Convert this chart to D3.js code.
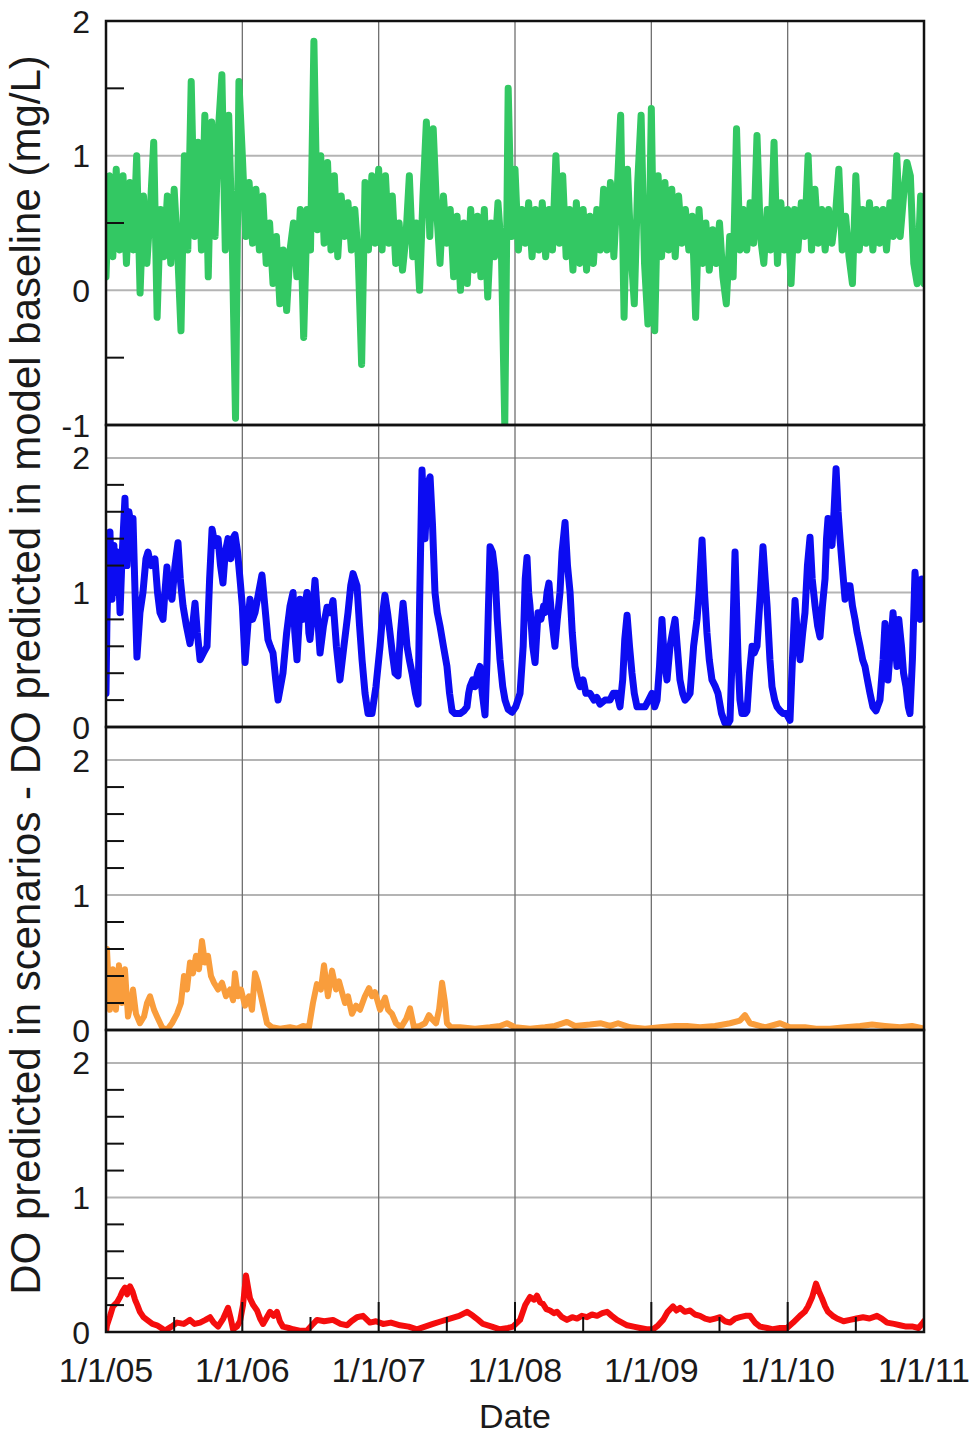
<!DOCTYPE html>
<html>
<head>
<meta charset="utf-8">
<script src="https://cdn.jsdelivr.net/npm/d3@7"></script>
<style>
  html, body { margin: 0; padding: 0; background: #fff; }
  #chart { width: 975px; height: 1440px; }
  text { font-family: "Liberation Sans", Arial, sans-serif; fill: #1a1a1a; }
</style>
</head>
<body>
<div id="chart"></div>
<script>
// x axis: decimal years, labelled as 1/1/yy
const yearTicks = [2005, 2006, 2007, 2008, 2009, 2010, 2011];

// panel 1 (green): values sampled every 0.025 yr from 2005.0
const greenStart = 2005;
const greenStep = 0.025;
const greenValues = [
  0.1, 0.85, 0.25, 0.9, 0.3, 0.85, 0.2, 0.8, 0.3, 1.0,
  -0.02, 0.7, 0.2, 0.6, 1.1, -0.2, 0.6, 0.25, 0.7, 0.2,
  0.75, 0.3, -0.3, 1.0, 0.3, 1.55, 0.4, 1.1, 0.3, 1.3,
  0.1, 1.25, 0.4, 1.2, 1.6, 0.3, 1.3, 0.4, -0.95, 1.55,
  1.0, 0.4, 0.8, 0.35, 0.75, 0.3, 0.7, 0.2, 0.5, 0.05,
  0.4, -0.1, 0.3, -0.15, 0.3, 0.5, 0.1, 0.6, -0.35, 0.6,
  0.3, 1.85, 0.45, 1.0, 0.35, 0.95, 0.3, 0.85, 0.25, 0.7,
  0.4, 0.65, 0.3, 0.6, 0.25, -0.55, 0.8, 0.3, 0.85, 0.35,
  0.9, 0.3, 0.85, 0.35, 0.7, 0.2, 0.5, 0.15, 0.4, 0.85,
  0.25, 0.5, 0.0, 0.7, 1.25, 0.4, 1.2, 0.6, 0.2, 0.7,
  0.35, 0.6, 0.1, 0.55, 0.0, 0.5, 0.05, 0.6, 0.15, 0.55,
  0.1, 0.6, -0.05, 0.5, 0.25, 0.65, 0.3, -1.0, 1.5, 0.4,
  0.9, 0.3, 0.6, 0.35, 0.65, 0.25, 0.6, 0.3, 0.65, 0.25,
  0.6, 0.3, 1.0, 0.35, 0.85, 0.25, 0.6, 0.15, 0.65, 0.2,
  0.6, 0.15, 0.55, 0.2, 0.6, 0.3, 0.75, 0.3, 0.8, 0.25,
  0.75, 1.3, -0.2, 0.9, 0.3, -0.1, 0.8, 1.3, 0.2, -0.25,
  1.35, -0.3, 0.85, 0.25, 0.8, 0.3, 0.75, 0.25, 0.7, 0.35,
  0.6, 0.3, 0.55, -0.2, 0.6, 0.2, 0.5, 0.15, 0.45, 0.2,
  0.5, 0.1, -0.1, 0.4, 0.1, 1.2, 0.3, 0.6, 0.3, 0.65,
  0.35, 1.15, 0.4, 0.2, 0.6, 0.3, 1.1, 0.2, 0.65, 0.3,
  0.6, 0.05, 0.6, 0.3, 0.65, 0.4, 1.0, 0.3, 0.75, 0.35,
  0.6, 0.3, 0.6, 0.35, 0.55, 0.9, 0.3, 0.55, 0.25, 0.05,
  0.85, 0.3, 0.6, 0.35, 0.65, 0.3, 0.6, 0.35, 0.6, 0.3,
  0.65, 0.4, 1.0, 0.4, 0.7, 0.95, 0.85, 0.2, 0.05, 0.7,
  0.05
];

// panel 2 (blue): [decimal year, mg/L]
const blueSeries = [
  [2005.000, 0.25], [2005.007, 0.8], [2005.015, 1.1], [2005.029, 1.45], [2005.044, 0.95],
  [2005.058, 1.35], [2005.066, 1.0], [2005.080, 1.2], [2005.088, 1.3], [2005.103, 0.85],
  [2005.117, 1.25], [2005.139, 1.7], [2005.154, 1.2], [2005.168, 1.6], [2005.176, 1.55],
  [2005.198, 1.55], [2005.213, 1.0], [2005.227, 0.52], [2005.249, 0.85], [2005.271, 1.0],
  [2005.293, 1.25], [2005.308, 1.3], [2005.330, 1.2], [2005.359, 1.25], [2005.378, 1.0],
  [2005.396, 0.85], [2005.418, 0.8], [2005.432, 1.0], [2005.447, 1.19], [2005.462, 1.0],
  [2005.484, 0.95], [2005.506, 1.2], [2005.528, 1.37], [2005.545, 1.1], [2005.565, 0.9],
  [2005.590, 0.75], [2005.616, 0.62], [2005.635, 0.75], [2005.653, 0.92], [2005.670, 0.7],
  [2005.690, 0.5], [2005.715, 0.55], [2005.741, 0.6], [2005.760, 1.1], [2005.778, 1.47],
  [2005.800, 1.35], [2005.822, 1.4], [2005.840, 1.2], [2005.858, 1.07], [2005.875, 1.3],
  [2005.895, 1.4], [2005.915, 1.25], [2005.930, 1.4], [2005.946, 1.43], [2005.965, 1.3],
  [2005.983, 1.1], [2006.000, 0.9], [2006.020, 0.48], [2006.040, 0.75], [2006.056, 0.95],
  [2006.075, 0.8], [2006.093, 0.85], [2006.120, 1.0], [2006.144, 1.13], [2006.165, 0.9],
  [2006.188, 0.65], [2006.205, 0.6], [2006.225, 0.55], [2006.245, 0.35], [2006.262, 0.2],
  [2006.280, 0.3], [2006.298, 0.4], [2006.325, 0.7], [2006.350, 0.9], [2006.372, 1.0],
  [2006.385, 0.7], [2006.401, 0.5], [2006.415, 0.75], [2006.423, 0.95], [2006.445, 0.8],
  [2006.474, 1.0], [2006.488, 0.7], [2006.496, 0.65], [2006.515, 0.85], [2006.533, 1.09],
  [2006.550, 0.85], [2006.570, 0.55], [2006.595, 0.75], [2006.621, 0.89], [2006.645, 0.85],
  [2006.665, 0.94], [2006.690, 0.6], [2006.716, 0.35], [2006.745, 0.6], [2006.775, 0.85],
  [2006.795, 1.05], [2006.812, 1.14], [2006.841, 1.05], [2006.860, 0.75], [2006.878, 0.5],
  [2006.900, 0.25], [2006.922, 0.1], [2006.951, 0.1], [2006.980, 0.3], [2007.010, 0.6],
  [2007.030, 0.85], [2007.046, 0.98], [2007.065, 0.85], [2007.083, 0.7], [2007.100, 0.55],
  [2007.120, 0.4], [2007.142, 0.38], [2007.160, 0.7], [2007.179, 0.92], [2007.195, 0.75],
  [2007.208, 0.6], [2007.225, 0.5], [2007.245, 0.4], [2007.270, 0.25], [2007.289, 0.17],
  [2007.300, 0.9], [2007.318, 1.91], [2007.330, 1.6], [2007.340, 1.4], [2007.358, 1.8],
  [2007.377, 1.86], [2007.395, 1.5], [2007.413, 1.0], [2007.430, 0.85], [2007.450, 0.75],
  [2007.475, 0.6], [2007.501, 0.45], [2007.520, 0.25], [2007.538, 0.12], [2007.560, 0.1],
  [2007.597, 0.1], [2007.625, 0.12], [2007.648, 0.15], [2007.660, 0.25], [2007.670, 0.3],
  [2007.690, 0.35], [2007.707, 0.3], [2007.725, 0.4], [2007.743, 0.45], [2007.760, 0.25],
  [2007.780, 0.09], [2007.795, 0.5], [2007.817, 1.34], [2007.835, 1.3], [2007.853, 1.15],
  [2007.870, 0.8], [2007.890, 0.5], [2007.910, 0.3], [2007.927, 0.2], [2007.950, 0.13],
  [2007.978, 0.11], [2008.005, 0.15], [2008.037, 0.25], [2008.060, 0.6], [2008.075, 1.1],
  [2008.088, 1.26], [2008.100, 1.0], [2008.110, 0.9], [2008.130, 0.6], [2008.147, 0.48],
  [2008.169, 0.85], [2008.190, 0.8], [2008.210, 0.9], [2008.220, 0.85], [2008.235, 1.0],
  [2008.249, 1.07], [2008.270, 0.8], [2008.293, 0.6], [2008.310, 0.8], [2008.330, 1.0],
  [2008.345, 1.3], [2008.367, 1.52], [2008.385, 1.2], [2008.404, 1.0], [2008.420, 0.7],
  [2008.440, 0.45], [2008.460, 0.35], [2008.477, 0.3], [2008.500, 0.35], [2008.520, 0.25],
  [2008.550, 0.25], [2008.580, 0.2], [2008.600, 0.22], [2008.624, 0.17], [2008.660, 0.2],
  [2008.697, 0.2], [2008.720, 0.25], [2008.748, 0.25], [2008.770, 0.15], [2008.790, 0.35],
  [2008.805, 0.65], [2008.822, 0.83], [2008.840, 0.6], [2008.858, 0.4], [2008.875, 0.25],
  [2008.895, 0.15], [2008.925, 0.15], [2008.954, 0.15], [2008.980, 0.2], [2009.005, 0.25],
  [2009.025, 0.15], [2009.042, 0.2], [2009.060, 0.45], [2009.078, 0.8], [2009.095, 0.5],
  [2009.115, 0.35], [2009.137, 0.6], [2009.155, 0.7], [2009.174, 0.8], [2009.190, 0.6],
  [2009.210, 0.35], [2009.230, 0.25], [2009.247, 0.2], [2009.265, 0.22], [2009.284, 0.25],
  [2009.310, 0.6], [2009.335, 0.8], [2009.350, 1.0], [2009.372, 1.39], [2009.390, 1.0],
  [2009.408, 0.7], [2009.425, 0.5], [2009.445, 0.35], [2009.470, 0.3], [2009.489, 0.25],
  [2009.515, 0.1], [2009.540, 0.03], [2009.560, 0.02], [2009.577, 0.05], [2009.595, 0.6],
  [2009.614, 1.3], [2009.625, 0.9], [2009.636, 0.5], [2009.650, 0.2], [2009.665, 0.1],
  [2009.690, 0.1], [2009.702, 0.12], [2009.720, 0.4], [2009.739, 0.6], [2009.755, 0.55],
  [2009.775, 0.6], [2009.800, 1.0], [2009.819, 1.34], [2009.835, 1.1], [2009.849, 0.9],
  [2009.870, 0.5], [2009.885, 0.3], [2009.905, 0.2], [2009.922, 0.15], [2009.945, 0.12],
  [2009.966, 0.1], [2009.990, 0.1], [2010.017, 0.05], [2010.035, 0.5], [2010.054, 0.94],
  [2010.070, 0.7], [2010.091, 0.5], [2010.110, 0.7], [2010.127, 0.85], [2010.145, 1.2],
  [2010.164, 1.41], [2010.180, 1.1], [2010.201, 0.9], [2010.220, 0.75], [2010.237, 0.67],
  [2010.255, 0.9], [2010.274, 1.1], [2010.285, 1.4], [2010.296, 1.55], [2010.310, 1.4],
  [2010.325, 1.35], [2010.340, 1.6], [2010.355, 1.92], [2010.370, 1.6], [2010.384, 1.4],
  [2010.400, 1.2], [2010.421, 0.95], [2010.440, 1.05], [2010.457, 1.05], [2010.475, 0.9],
  [2010.494, 0.8], [2010.510, 0.7], [2010.531, 0.6], [2010.550, 0.5], [2010.567, 0.45],
  [2010.585, 0.35], [2010.604, 0.25], [2010.625, 0.15], [2010.648, 0.12], [2010.677, 0.2],
  [2010.700, 0.5], [2010.714, 0.77], [2010.725, 0.5], [2010.736, 0.35], [2010.755, 0.6],
  [2010.773, 0.85], [2010.790, 0.6], [2010.802, 0.45], [2010.815, 0.8], [2010.835, 0.6],
  [2010.850, 0.4], [2010.868, 0.3], [2010.885, 0.15], [2010.897, 0.1], [2010.915, 0.5],
  [2010.934, 1.15], [2010.950, 0.95], [2010.971, 0.8], [2010.985, 1.1], [2011.000, 1.05]
];

// panel 3 (orange)
const orangeSeries = [
  [2005.000, 0.6], [2005.007, 0.6], [2005.029, 0.15], [2005.051, 0.45], [2005.073, 0.15],
  [2005.095, 0.48], [2005.117, 0.2], [2005.139, 0.45], [2005.161, 0.1], [2005.183, 0.2],
  [2005.198, 0.3], [2005.220, 0.12], [2005.249, 0.05], [2005.279, 0.1], [2005.301, 0.2],
  [2005.323, 0.25], [2005.352, 0.15], [2005.374, 0.1], [2005.411, 0.02], [2005.447, 0.0],
  [2005.484, 0.05], [2005.521, 0.12], [2005.550, 0.2], [2005.572, 0.4], [2005.594, 0.3],
  [2005.616, 0.5], [2005.638, 0.42], [2005.660, 0.55], [2005.682, 0.45], [2005.704, 0.66],
  [2005.726, 0.5], [2005.748, 0.55], [2005.770, 0.4], [2005.792, 0.35], [2005.822, 0.3],
  [2005.851, 0.35], [2005.880, 0.25], [2005.910, 0.3], [2005.932, 0.22], [2005.946, 0.42],
  [2005.968, 0.25], [2005.990, 0.3], [2006.020, 0.18], [2006.049, 0.25], [2006.071, 0.15],
  [2006.093, 0.42], [2006.115, 0.35], [2006.137, 0.25], [2006.159, 0.15], [2006.181, 0.05],
  [2006.218, 0.02], [2006.276, 0.01], [2006.350, 0.02], [2006.401, 0.01], [2006.445, 0.03],
  [2006.489, 0.02], [2006.518, 0.2], [2006.547, 0.34], [2006.576, 0.3], [2006.599, 0.48],
  [2006.628, 0.25], [2006.658, 0.44], [2006.687, 0.3], [2006.709, 0.36], [2006.753, 0.2],
  [2006.775, 0.25], [2006.804, 0.12], [2006.834, 0.18], [2006.863, 0.15], [2006.899, 0.25],
  [2006.929, 0.31], [2006.951, 0.25], [2006.973, 0.28], [2007.010, 0.15], [2007.047, 0.24],
  [2007.069, 0.15], [2007.098, 0.12], [2007.127, 0.05], [2007.164, 0.02], [2007.201, 0.08],
  [2007.230, 0.16], [2007.259, 0.02], [2007.303, 0.03], [2007.340, 0.05], [2007.369, 0.11],
  [2007.391, 0.08], [2007.421, 0.05], [2007.443, 0.15], [2007.465, 0.35], [2007.487, 0.2],
  [2007.501, 0.05], [2007.531, 0.02], [2007.597, 0.02], [2007.707, 0.01], [2007.817, 0.02],
  [2007.890, 0.03], [2007.941, 0.05], [2008.000, 0.02], [2008.110, 0.01], [2008.220, 0.02],
  [2008.293, 0.03], [2008.381, 0.06], [2008.440, 0.03], [2008.550, 0.04], [2008.631, 0.05],
  [2008.697, 0.03], [2008.756, 0.05], [2008.844, 0.02], [2008.954, 0.01], [2009.064, 0.02],
  [2009.174, 0.03], [2009.262, 0.03], [2009.357, 0.02], [2009.467, 0.03], [2009.577, 0.05],
  [2009.650, 0.07], [2009.687, 0.11], [2009.724, 0.05], [2009.834, 0.02], [2009.944, 0.05],
  [2010.017, 0.02], [2010.127, 0.02], [2010.208, 0.01], [2010.311, 0.01], [2010.421, 0.02],
  [2010.531, 0.03], [2010.619, 0.04], [2010.714, 0.03], [2010.824, 0.02], [2010.912, 0.03],
  [2011.000, 0.01]
];

// panel 4 (red)
const redSeries = [
  [2005.000, 0.0], [2005.007, 0.05], [2005.030, 0.12], [2005.051, 0.19], [2005.080, 0.22],
  [2005.103, 0.26], [2005.120, 0.3], [2005.139, 0.33], [2005.155, 0.28], [2005.176, 0.34],
  [2005.195, 0.3], [2005.213, 0.24], [2005.230, 0.2], [2005.249, 0.15], [2005.275, 0.11],
  [2005.301, 0.09], [2005.340, 0.06], [2005.374, 0.05], [2005.405, 0.03], [2005.433, 0.01],
  [2005.480, 0.04], [2005.521, 0.07], [2005.570, 0.06], [2005.616, 0.09], [2005.650, 0.06],
  [2005.690, 0.07], [2005.730, 0.09], [2005.763, 0.11], [2005.790, 0.07], [2005.822, 0.04],
  [2005.860, 0.1], [2005.895, 0.18], [2005.915, 0.1], [2005.932, 0.02], [2005.960, 0.04],
  [2005.983, 0.08], [2006.005, 0.2], [2006.027, 0.42], [2006.042, 0.33], [2006.056, 0.25],
  [2006.080, 0.2], [2006.108, 0.16], [2006.130, 0.1], [2006.152, 0.06], [2006.175, 0.1],
  [2006.203, 0.15], [2006.230, 0.12], [2006.254, 0.15], [2006.275, 0.08], [2006.298, 0.04],
  [2006.340, 0.03], [2006.372, 0.02], [2006.420, 0.01], [2006.474, 0.01], [2006.510, 0.05],
  [2006.548, 0.09], [2006.600, 0.08], [2006.665, 0.09], [2006.720, 0.06], [2006.768, 0.05],
  [2006.800, 0.08], [2006.841, 0.11], [2006.885, 0.12], [2006.936, 0.07], [2006.980, 0.08],
  [2007.032, 0.06], [2007.090, 0.07], [2007.157, 0.05], [2007.220, 0.04], [2007.281, 0.02],
  [2007.340, 0.04], [2007.399, 0.06], [2007.460, 0.08], [2007.523, 0.1], [2007.590, 0.12],
  [2007.648, 0.15], [2007.692, 0.12], [2007.730, 0.09], [2007.765, 0.06], [2007.830, 0.04],
  [2007.890, 0.02], [2007.950, 0.03], [2007.985, 0.04], [2008.037, 0.09], [2008.075, 0.2],
  [2008.110, 0.26], [2008.140, 0.24], [2008.161, 0.27], [2008.185, 0.22], [2008.205, 0.21],
  [2008.230, 0.17], [2008.257, 0.16], [2008.285, 0.14], [2008.308, 0.15], [2008.345, 0.11],
  [2008.381, 0.09], [2008.420, 0.11], [2008.455, 0.1], [2008.490, 0.12], [2008.528, 0.11],
  [2008.565, 0.13], [2008.602, 0.12], [2008.640, 0.14], [2008.675, 0.15], [2008.710, 0.12],
  [2008.748, 0.09], [2008.785, 0.07], [2008.822, 0.05], [2008.870, 0.04], [2008.917, 0.03],
  [2008.965, 0.02], [2009.012, 0.02], [2009.050, 0.05], [2009.086, 0.09], [2009.120, 0.15],
  [2009.159, 0.19], [2009.185, 0.16], [2009.210, 0.18], [2009.245, 0.15], [2009.284, 0.16],
  [2009.320, 0.13], [2009.357, 0.12], [2009.395, 0.1], [2009.430, 0.09], [2009.468, 0.1],
  [2009.504, 0.11], [2009.540, 0.08], [2009.577, 0.07], [2009.615, 0.1], [2009.650, 0.11],
  [2009.690, 0.12], [2009.724, 0.12], [2009.760, 0.07], [2009.797, 0.04], [2009.850, 0.03],
  [2009.893, 0.02], [2009.945, 0.03], [2009.995, 0.03], [2010.040, 0.07], [2010.090, 0.12],
  [2010.125, 0.15], [2010.149, 0.19], [2010.180, 0.26], [2010.208, 0.36], [2010.230, 0.3],
  [2010.252, 0.25], [2010.275, 0.19], [2010.296, 0.15], [2010.330, 0.12], [2010.362, 0.1],
  [2010.410, 0.08], [2010.457, 0.09], [2010.505, 0.1], [2010.553, 0.11], [2010.600, 0.1],
  [2010.655, 0.12], [2010.690, 0.1], [2010.729, 0.07], [2010.780, 0.06], [2010.824, 0.05],
  [2010.870, 0.04], [2010.919, 0.04], [2010.960, 0.03], [2010.993, 0.07], [2011.000, 0.08]
];

// layout of the four stacked panels (pixel rows)
const plotLeft = 106;
const plotRight = 924;
const minor02 = [0.2, 0.4, 0.6, 0.8, 1.2, 1.4, 1.6, 1.8];
const panels = [
  { top: 21,   bottom: 425,  domain: [-1, 2],    minor: [-0.5, 0.5, 1.5], labels: [2, 1, 0, -1], grid: [0, 1], color: '#33c863', width: 7 },
  { top: 425,  bottom: 727,  domain: [0, 2.245], minor: minor02, labels: [2, 1, 0], grid: [1, 2], color: '#0c0cf2', width: 7 },
  { top: 727,  bottom: 1030, domain: [0, 2.245], minor: minor02, labels: [2, 1, 0], grid: [1, 2], color: '#f99d3c', width: 6 },
  { top: 1030, bottom: 1332, domain: [0, 2.245], minor: minor02, labels: [2, 1, 0], grid: [1, 2], color: '#f50d0d', width: 6 }
];

const greenSeries = greenValues.map((v, i) => [greenStart + i * greenStep, v]);
const seriesList = [greenSeries, blueSeries, orangeSeries, redSeries];

const svg = d3.select('#chart')
  .append('svg')
  .attr('width', 975)
  .attr('height', 1440);

const x = d3.scaleLinear().domain([2005, 2011]).range([plotLeft, plotRight]);
const defs = svg.append('defs');

panels.forEach((p, k) => {
  const y = d3.scaleLinear().domain(p.domain).range([p.bottom, p.top]);
  const g = svg.append('g');

  // gridlines
  g.selectAll('line.hgrid')
    .data(p.grid)
    .join('line')
    .attr('class', 'hgrid')
    .attr('x1', plotLeft).attr('x2', plotRight)
    .attr('y1', d => y(d)).attr('y2', d => y(d))
    .attr('stroke', '#b4b4b4')
    .attr('stroke-width', 2);

  g.selectAll('line.vgrid')
    .data(yearTicks.slice(1, -1))
    .join('line')
    .attr('class', 'vgrid')
    .attr('x1', d => x(d)).attr('x2', d => x(d))
    .attr('y1', p.top).attr('y2', p.bottom)
    .attr('stroke', '#707070')
    .attr('stroke-width', 1.3);

  // data line, clipped to the panel
  defs.append('clipPath')
    .attr('id', `clip-${k}`)
    .append('rect')
    .attr('x', plotLeft)
    .attr('y', p.top)
    .attr('width', plotRight - plotLeft)
    .attr('height', p.bottom - p.top);

  const line = d3.line()
    .x(d => x(d[0]))
    .y(d => y(d[1]));

  g.append('path')
    .datum(seriesList[k])
    .attr('clip-path', `url(#clip-${k})`)
    .attr('fill', 'none')
    .attr('stroke', p.color)
    .attr('stroke-width', p.width)
    .attr('stroke-linejoin', 'round')
    .attr('stroke-linecap', 'round')
    .attr('d', line);

  // minor ticks pointing inward from the left axis
  g.selectAll('line.minor')
    .data(p.minor)
    .join('line')
    .attr('class', 'minor')
    .attr('x1', plotLeft).attr('x2', plotLeft + 18)
    .attr('y1', d => y(d)).attr('y2', d => y(d))
    .attr('stroke', '#111')
    .attr('stroke-width', 2);

  // tick labels
  g.selectAll('text.ylab')
    .data(p.labels)
    .join('text')
    .attr('class', 'ylab')
    .attr('x', 90)
    .attr('y', d => y(d))
    .attr('dy', '0.36em')
    .attr('text-anchor', 'end')
    .attr('font-size', '32px')
    .text(d => d);

  // frame
  g.append('rect')
    .attr('x', plotLeft)
    .attr('y', p.top)
    .attr('width', plotRight - plotLeft)
    .attr('height', p.bottom - p.top)
    .attr('fill', 'none')
    .attr('stroke', '#111')
    .attr('stroke-width', 2.5);
});

// bottom x axis ticks (on the last panel only)
const bottom = panels[panels.length - 1].bottom;
const xAxis = svg.append('g');

xAxis.selectAll('line.major')
  .data(yearTicks)
  .join('line')
  .attr('x1', d => x(d)).attr('x2', d => x(d))
  .attr('y1', bottom).attr('y2', bottom - 30)
  .attr('stroke', '#111')
  .attr('stroke-width', 2);

xAxis.selectAll('line.mid')
  .data(yearTicks.slice(0, -1))
  .join('line')
  .attr('x1', d => x(d + 0.5)).attr('x2', d => x(d + 0.5))
  .attr('y1', bottom).attr('y2', bottom - 15)
  .attr('stroke', '#111')
  .attr('stroke-width', 2);

xAxis.selectAll('text')
  .data(yearTicks)
  .join('text')
  .attr('x', d => x(d))
  .attr('y', bottom + 38)
  .attr('dy', '0.36em')
  .attr('text-anchor', 'middle')
  .attr('font-size', '34px')
  .text(d => `1/1/${String(d).slice(2)}`);

svg.append('text')
  .attr('x', 515)
  .attr('y', 1416)
  .attr('dy', '0.36em')
  .attr('text-anchor', 'middle')
  .attr('font-size', '34px')
  .text('Date');

svg.append('text')
  .attr('transform', 'translate(40, 675) rotate(-90)')
  .attr('text-anchor', 'middle')
  .attr('font-size', '42px')
  .text('DO predicted in scenarios - DO predicted in model baseline (mg/L)');
</script>
</body>
</html>
